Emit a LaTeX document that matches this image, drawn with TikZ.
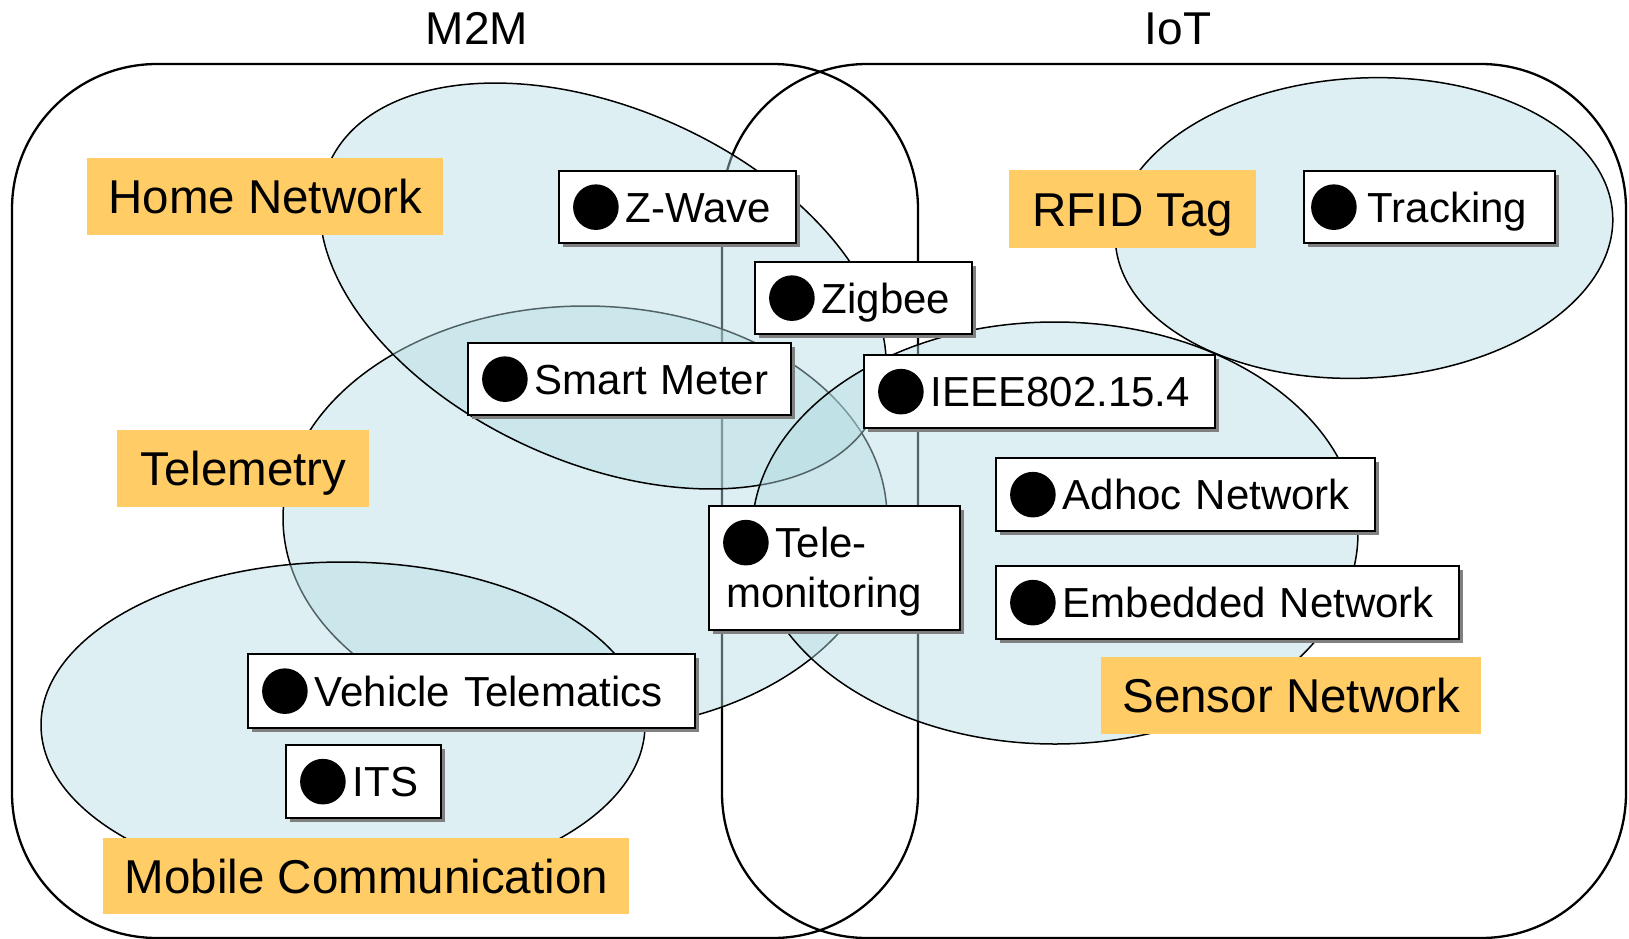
\documentclass[tikz,border=0pt]{standalone}
\usepackage{fontspec}
\setmainfont{Liberation Sans}
\usepackage{pict2e}
\usetikzlibrary{shadows}
\definecolor{zonefill}{RGB}{180,220,226}
\definecolor{tagorange}{RGB}{255,204,102}
% filled round bullet in front of each technology name
\newcommand\dotmark{{\setlength\unitlength{1pt}\begin{picture}(22.8,18.9)\put(11.4,7.5){\circle*{22.8}}\end{picture}}\hspace{3.5pt}}
\begin{document}
\begin{tikzpicture}[x=0.5pt,y=-0.5pt,
  frame/.style={draw=black, line width=1.15pt, rounded corners=72.5pt},
  zone/.style={fill=zonefill, fill opacity=0.45, draw=black, line width=0.75pt},
  title/.style={font=\fontsize{23}{27}\selectfont, text height=16.5pt, text depth=0pt, inner sep=0pt},
  tag/.style={fill=tagorange, font=\fontsize{23.75}{28}\selectfont, text height=17pt, text depth=0pt,
    inner sep=0pt, anchor=north west},
  item/.style={draw=black, line width=1.1pt, fill=white, font=\fontsize{21}{25}\selectfont,
    inner xsep=7pt, inner ysep=0pt, align=left, anchor=north west,
    drop shadow={shadow xshift=1.75pt, shadow yshift=-1.75pt, fill=black!50, opacity=1}},
  oneline/.style={text height=15.04pt, text depth=0pt}]
\useasboundingbox (0,0) rectangle (1629,938);

% the two domains
\draw[frame] (12,64) rectangle (918,938);
\draw[frame] (722,64) rectangle (1626,938);

% application areas
\path[zone] (585,518) ellipse [x radius=151pt, y radius=106pt];
\path[zone] (343,725) ellipse [x radius=151pt, y radius=81.5pt];
\path[zone, rotate around={-24.2:(603,286)}] (603,286) ellipse [x radius=150pt, y radius=88.5pt];
\path[zone] (1055,533) ellipse [x radius=151.5pt, y radius=105.5pt];
\path[zone, rotate around={3:(1364,228)}] (1364,228) ellipse [x radius=124.5pt, y radius=75pt];

% domain titles
\node[title] (m2m) at (477,28) {M2M};
\node[title] (iot) at (1178,28) {IoT};

% area labels
\node[tag, minimum width=178pt, minimum height=38.5pt] (homenet) at (87,158) {Home Network};
\node[tag, minimum width=126pt, minimum height=38.5pt] (telemetry) at (117,430) {Telemetry};
\node[tag, minimum width=263pt, minimum height=38pt] (mobile) at (103,838) {Mobile Communication};
\node[tag, minimum width=123.5pt, minimum height=39pt] (rfid) at (1009,170) {RFID Tag};
\node[tag, minimum width=190pt, minimum height=38.5pt] (sensornet) at (1101,657) {Sensor Network};

% technologies
\node[item, oneline, minimum width=118.5pt, text width=104.5pt, minimum height=36pt] (zwave) at (558,170) {\dotmark Z-Wave};
\node[item, oneline, minimum width=108.5pt, text width=94.5pt, minimum height=36pt] (zigbee) at (754,261) {\dotmark Zigbee};
\node[item, oneline, minimum width=161.5pt, text width=147.5pt, minimum height=36pt] (smartmeter) at (467,342) {\dotmark Smart Meter};
\node[item, oneline, minimum width=175.5pt, text width=161.5pt, minimum height=36.5pt] (ieee) at (863,354) {\dotmark IEEE802.15.4};
\node[item, oneline, inner xsep=3.5pt, minimum width=125.5pt, text width=118.5pt, minimum height=36pt] (tracking) at (1303,170) {\dotmark\hspace{2pt}Tracking};
\node[item, oneline, minimum width=189.5pt, text width=175.5pt, minimum height=36.5pt] (adhoc) at (995,457) {\dotmark Adhoc Network};
\node[item, oneline, minimum width=231.5pt, text width=217.5pt, minimum height=36.5pt] (embedded) at (995,565) {\dotmark Embedded Network};
\node[item, minimum width=125.5pt, text width=111.5pt, minimum height=62pt] (telemon) at (708,505) {\dotmark Tele-\\\hspace*{1.5pt}monitoring};
\node[item, oneline, minimum width=223.5pt, text width=209.5pt, minimum height=37pt] (vehicle) at (247,653) {\dotmark Vehicle Telematics};
\node[item, oneline, minimum width=77.5pt, text width=63.5pt, minimum height=36.5pt] (its) at (285,744) {\dotmark ITS};
\end{tikzpicture}
\end{document}
